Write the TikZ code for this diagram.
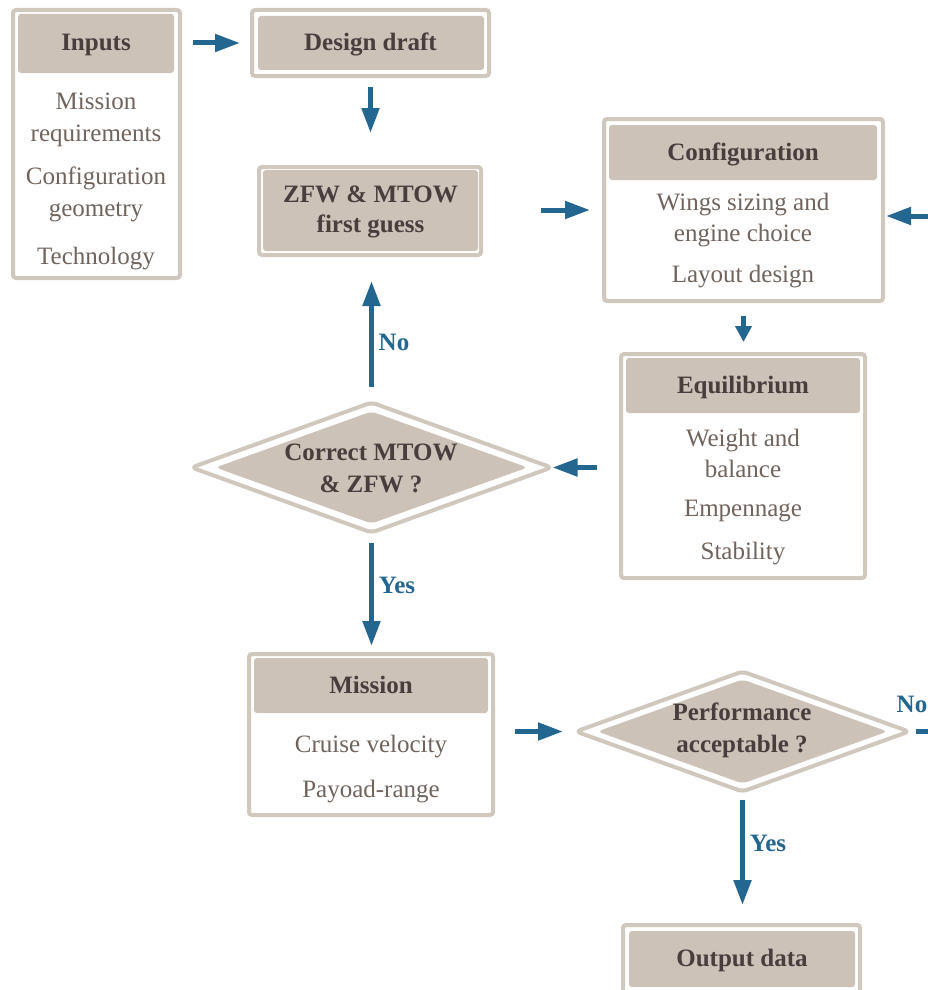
\documentclass[tikz,border=0pt]{standalone}
\usepackage{fontspec}
\setmainfont{Liberation Serif}
\usetikzlibrary{arrows.meta,shapes.geometric}
\definecolor{tanfill}{RGB}{204,194,183}
\definecolor{tanline}{RGB}{208,199,189}
\definecolor{hdtext}{RGB}{72,62,62}
\definecolor{bdtext}{RGB}{112,100,93}
\definecolor{arrblue}{RGB}{35,102,143}
\begin{document}
\begin{tikzpicture}[x=1pt,y=-1pt,
 outerbox/.style={rectangle, draw=tanline, line width=4pt, fill=white, rounded corners=3pt, inner sep=0pt, outer sep=0pt},
 hdbox/.style={rectangle, fill=tanfill, rounded corners=3pt, inner sep=0pt, outer sep=0pt},
 odia/.style={diamond, draw=tanline, line width=4pt, fill=white, rounded corners=5pt, inner sep=0pt, outer sep=0pt},
 idia/.style={diamond, fill=tanfill, rounded corners=5pt, inner sep=0pt, outer sep=0pt},
 hdtxt/.style={anchor=base, inner sep=0pt, text=hdtext, font=\fontsize{25}{30}\selectfont\bfseries},
 bdtxt/.style={anchor=base, inner sep=0pt, text=bdtext, font=\fontsize{25}{30}\selectfont},
 lbl/.style={anchor=base, inner sep=0pt, text=arrblue, font=\fontsize{25}{30}\selectfont\bfseries},
 arr/.style={draw=arrblue, line width=5pt, -{Triangle[length=25pt,width=17pt]}},
 sarr/.style={draw=arrblue, line width=5pt, -{Triangle[length=16pt,width=16pt]}},
]
\useasboundingbox (0,0) rectangle (927,990);
% Inputs
\node[outerbox, minimum width=167pt, minimum height=268pt] (inputs) at (96.5,144) {};
\node[hdbox, minimum width=156pt, minimum height=59pt] (inputsH) at (96,43.5) {};
\node[hdtxt] (inputsT) at (96,50.5) {Inputs};
\node[bdtxt] (in1) at (96,109) {Mission};
\node[bdtxt] (in2) at (96,141) {requirements};
\node[bdtxt] (in3) at (96,184) {Configuration};
\node[bdtxt] (in4) at (96,216) {geometry};
\node[bdtxt] (in5) at (96,264) {Technology};
% Design draft
\node[outerbox, minimum width=237pt, minimum height=66pt] (draft) at (370.5,43) {};
\node[hdbox, minimum width=226pt, minimum height=54pt] (draftH) at (371,43) {};
\node[hdtxt] (draftT) at (370.5,50.5) {Design draft};
% ZFW
\node[outerbox, minimum width=222pt, minimum height=88pt] (zfw) at (370,211) {};
\node[hdbox, minimum width=215pt, minimum height=81pt] (zfwH) at (370.5,210.5) {};
\node[hdtxt] (zfwT1) at (370.5,202) {ZFW \& MTOW};
\node[hdtxt] (zfwT2) at (370.5,232) {first guess};
% Configuration
\node[outerbox, minimum width=279pt, minimum height=182pt] (config) at (743.5,210) {};
\node[hdbox, minimum width=268pt, minimum height=55pt] (configH) at (743,152.5) {};
\node[hdtxt] (configT) at (743,160) {Configuration};
\node[bdtxt] (cf1) at (743,210) {Wings sizing and};
\node[bdtxt] (cf2) at (743,241) {engine choice};
\node[bdtxt] (cf3) at (743,282) {Layout design};
% Equilibrium
\node[outerbox, minimum width=244pt, minimum height=224pt] (equil) at (743,466) {};
\node[hdbox, minimum width=234pt, minimum height=55pt] (equilH) at (743,385.5) {};
\node[hdtxt] (equilT) at (743,393) {Equilibrium};
\node[bdtxt] (eq1) at (743,446) {Weight and};
\node[bdtxt] (eq2) at (743,477) {balance};
\node[bdtxt] (eq3) at (743,516) {Empennage};
\node[bdtxt] (eq4) at (743,559) {Stability};
% Mission
\node[outerbox, minimum width=244pt, minimum height=161pt] (mission) at (371,734.5) {};
\node[hdbox, minimum width=234pt, minimum height=55pt] (missionH) at (371,685.5) {};
\node[hdtxt] (missionT) at (371,693) {Mission};
\node[bdtxt] (ms1) at (371,752) {Cruise velocity};
\node[bdtxt] (ms2) at (371,797) {Payoad-range};
% Output
\node[outerbox, minimum width=237pt, minimum height=80pt] (output) at (741.5,965) {};
\node[hdbox, minimum width=226pt, minimum height=56pt] (outputH) at (742,959) {};
\node[hdtxt] (outputT) at (742,966.5) {Output data};
% Diamond 1
\node[odia, minimum width=360pt, minimum height=130pt] (d1) at (371.5,467.5) {};
\node[idia, minimum width=312pt, minimum height=112pt] (d1i) at (371.5,467.5) {};
\node[hdtxt] (d1T1) at (371,460) {Correct MTOW};
\node[hdtxt] (d1T2) at (371,492) {\& ZFW ?};
% Diamond 2
\node[odia, minimum width=333pt, minimum height=120pt] (d2) at (742.5,731.5) {};
\node[idia, minimum width=290pt, minimum height=104pt] (d2i) at (742.5,731.5) {};
\node[hdtxt] (d2T1) at (742,720) {Performance};
\node[hdtxt] (d2T2) at (742,752) {acceptable ?};
% labels
\node[lbl] (no1) at (394,350) {No};
\node[lbl] (yes1) at (397,593) {Yes};
\node[lbl] (no2) at (912,712) {No};
\node[lbl] (yes2) at (768,851) {Yes};
% loop coordinates (off page)
\coordinate (loopA) at (960,731.5);
\coordinate (loopB) at (960,216);
% connectors
\draw[arr, shorten <=13pt, shorten >=12pt] (draft.west -| inputs.east) -- (draft.west);
\draw[arr, shorten <=11pt, shorten >=34pt] (draft.south) -- (draft.south |- zfw.north);
\draw[arr, shorten <=60pt, shorten >=14pt] (config.west -| zfw.east) -- (config.west);
\draw[sarr, shorten <=15pt, shorten >=12pt] (config.south) -- (config.south |- equil.north);
\draw[arr, shorten <=24pt, shorten >=1pt] (d1.east -| equil.west) -- (d1.east);
\draw[arr, shorten <=16pt, shorten >=26pt] (d1.north) -- (d1.north |- zfw.south);
\draw[arr, shorten <=10pt, shorten >=8pt] (d1.south) -- (d1.south |- mission.north);
\draw[arr, shorten <=22pt, shorten >=13pt] (d2.west -| mission.east) -- (d2.west);
\draw[arr, shorten <=7pt, shorten >=3pt] (d2.east) -- (loopA) -- (loopB) -- (loopB -| config.east);
\draw[arr, shorten <=8.5pt, shorten >=20pt] (d2.south) -- (d2.south |- output.north);
\end{tikzpicture}
\end{document}
